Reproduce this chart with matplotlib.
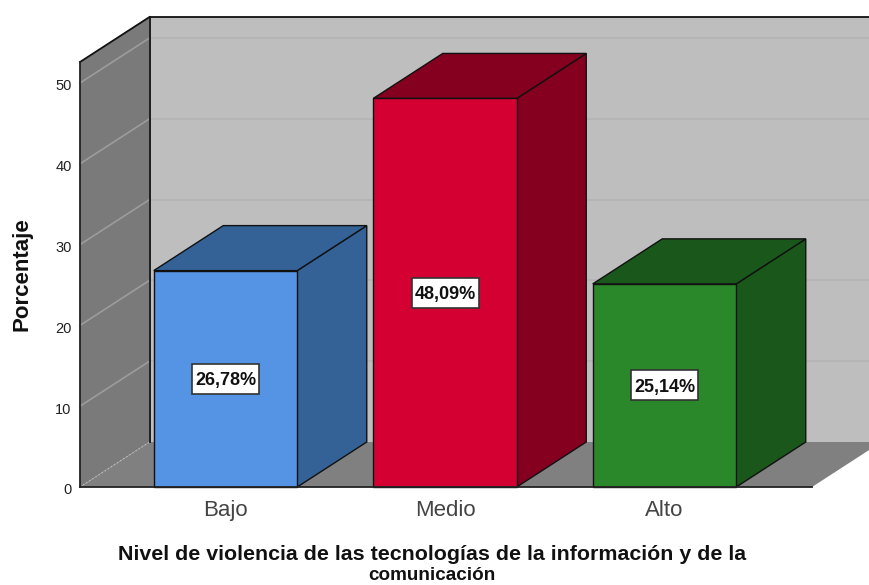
import matplotlib
matplotlib.use('Agg')
import matplotlib.pyplot as plt
from matplotlib.patches import Polygon, Rectangle
from matplotlib.transforms import ScaledTranslation

categories = ['Bajo', 'Medio', 'Alto']
values = [26.78, 48.09, 25.14]
value_labels = ['26,78%', '48,09%', '25,14%']
y_ticks = [0, 10, 20, 30, 40, 50]

front_colors = ['#5593e5', '#d50032', '#2a882a']
side_colors = ['#346297', '#85001f', '#1a571a']

W, H = 869, 585
X0, X1 = 80, 812      # pixel span of the front of the axes
Y0, YTOP = 487, 62
STEP = 219.5          # pixels between categories
CENTER0 = 225.5
YSCALE = 8.08         # pixels per percent

xmin = (X0 - CENTER0) / STEP
xmax = (X1 - CENTER0) / STEP
ymax = (Y0 - YTOP) / YSCALE
dx = 69.5 / STEP      # depth of the fake 3d box
dy = 45 / YSCALE
bar_w = 143.5 / STEP
box_w = 67 / STEP     # value label box
box_h = 30 / YSCALE

plt.rcParams['font.family'] = ['Liberation Sans', 'DejaVu Sans']

fig = plt.figure(figsize=(W / 100, H / 100), dpi=100)
ax = fig.add_axes([X0 / W, 1 - Y0 / H, (X1 - X0) / W, (Y0 - YTOP) / H])
ax.set_xlim(xmin, xmax)
ax.set_ylim(0, ymax)
ax.patch.set_visible(False)


def face(points, color, z, edge='none', lw=0):
    ax.add_patch(Polygon(points, closed=True, facecolor=color, edgecolor=edge,
                         linewidth=lw, zorder=z, clip_on=False, joinstyle='miter'))


# walls and floor
face([(xmin + dx, dy), (xmax + dx, dy), (xmax + dx, ymax + dy), (xmin + dx, ymax + dy)], '#bebebe', 1)
face([(xmin, 0), (xmin + dx, dy), (xmin + dx, ymax + dy), (xmin, ymax)], '#7a7a7a', 1)
face([(xmin, 0), (xmax, 0), (xmax + dx, dy), (xmin + dx, dy)], '#808080', 1.5)

# gridlines, skip the one at zero
for t in y_ticks[1:]:
    ax.plot([xmin + dx, xmax + dx], [t + dy, t + dy], color='#b4b4b4', lw=1.2, zorder=2, clip_on=False)
    ax.plot([xmin, xmin + dx], [t, t + dy], color='#9c9c9c', lw=1.2, zorder=2, clip_on=False)
ax.plot([xmin, xmin + dx], [0, dy], color='#b8b8b8', lw=1, ls=':', zorder=2, clip_on=False)

# wall outlines
ax.plot([xmin + dx, xmin + dx], [dy, ymax + dy], color='#111111', lw=1.3, zorder=3, clip_on=False)
ax.plot([xmin + dx, xmax + dx], [ymax + dy, ymax + dy], color='#111111', lw=1.3, zorder=3, clip_on=False)
ax.plot([xmin, xmin + dx], [ymax, ymax + dy], color='#111111', lw=1.3, zorder=3, clip_on=False)

# bars: side and top first, then the front through ax.bar
for i, v in enumerate(values):
    l = i - bar_w / 2
    r = i + bar_w / 2
    z = 4 + i
    face([(r, 0), (r + dx, dy), (r + dx, v + dy), (r, v)], side_colors[i], z, '#111111', 1)
    face([(l, v), (r, v), (r + dx, v + dy), (l + dx, v + dy)], side_colors[i], z, '#111111', 1)
    ax.bar(i, v, width=bar_w, color=front_colors[i], edgecolor='#111111', linewidth=1,
           zorder=z + 0.5, clip_on=False)
    ax.add_patch(Rectangle((i - box_w / 2, v / 2 - box_h / 2), box_w, box_h, facecolor='white',
                           edgecolor='#333333', linewidth=1.2, zorder=10, clip_on=False))
    ax.text(i, v / 2, value_labels[i], ha='center', va='center_baseline', fontsize=13, fontweight='bold',
            color='#111111', zorder=11)

ax.spines['top'].set_visible(False)
ax.spines['right'].set_visible(False)
ax.spines['left'].set_color('#222222')
ax.spines['bottom'].set_color('#222222')
ax.spines['left'].set_linewidth(1.3)
ax.spines['bottom'].set_linewidth(1.3)
ax.spines['left'].set_zorder(3)
ax.spines['bottom'].set_zorder(9)

ax.set_xticks(range(len(categories)))
ax.set_xticklabels(categories, fontsize=16, color='#444444')
ax.set_yticks(y_ticks)
ax.tick_params(axis='x', length=0, pad=9.5)
ax.tick_params(axis='y', length=0, pad=6, labelsize=10.5, labelcolor='#222222')
# tick numbers sit a little under their gridline in the original
for lab in ax.get_yticklabels():
    lab.set_transform(lab.get_transform() + ScaledTranslation(0, -2 / 100, fig.dpi_scale_trans))

fig.text(22 / W, 1 - 274 / H, 'Porcentaje', rotation=90, ha='center', va='center',
         fontsize=16, fontweight='bold', color='#111111')
fig.text(432 / W, 1 - 554 / H, 'Nivel de violencia de las tecnologías de la información y de la',
         ha='center', va='center', fontsize=15.4, fontweight='bold', color='#111111')
fig.text(432 / W, 1 - 576 / H, 'comunicación',
         ha='center', va='center', fontsize=13.6, fontweight='bold', color='#111111')

fig.savefig('out.png', dpi=100, facecolor='white')
